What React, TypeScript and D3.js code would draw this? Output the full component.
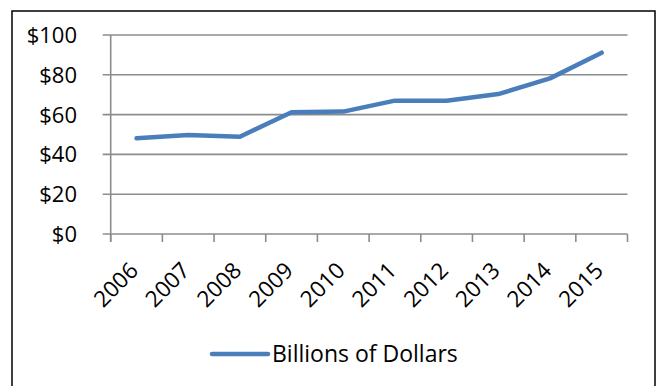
import React from "react";
import * as d3 from "d3";

const years = ["2006", "2007", "2008", "2009", "2010", "2011", "2012", "2013", "2014", "2015"];
const billions = [48.1, 49.7, 48.9, 61.2, 61.5, 67, 67, 70.3, 78.2, 91.1];
const yTicks = [0, 20, 40, 60, 80, 100];
const seriesName = "Billions of Dollars";

const W = 657;
const H = 386;
const plot = { left: 110.7, right: 627.5, top: 35, bottom: 234 };
const FONT = "'Open Sans', 'Liberation Sans', sans-serif";
const GRID = "#8c8c8c";
const LINE = "#4a7ebb";

export default function App() {
  const x = d3.scaleBand<string>().domain(years).range([plot.left, plot.right]);
  const y = d3.scaleLinear().domain([0, 100]).range([plot.bottom, plot.top]);
  const line = d3
    .line<number>()
    .x((_, i) => (x(years[i]) as number) + x.bandwidth() / 2)
    .y((d) => y(d));
  const tickX = years.map((yr) => x(yr) as number).concat([plot.right]);

  return (
    <svg
      width={W}
      height={H}
      style={{ position: "absolute", left: 0, top: 0, background: "#fff" }}
      fontFamily={FONT}
    >
      <rect x={12} y={11} width={643} height={400} fill="#fff" stroke="#000" strokeWidth={1.5} />
      {yTicks.map((t) => (
        <g key={t}>
          <line x1={plot.left - 8} x2={plot.right} y1={y(t)} y2={y(t)} stroke={GRID} strokeWidth={1.6} />
          <text x={77} y={y(t)} dy="0.36em" textAnchor="end" fontSize={22} fill="#000">
            {"$" + t}
          </text>
        </g>
      ))}
      <line x1={plot.left} x2={plot.left} y1={plot.top} y2={plot.bottom + 8} stroke={GRID} strokeWidth={1.6} />
      {tickX.map((tx, i) => (
        <line key={i} x1={tx} x2={tx} y1={plot.bottom} y2={plot.bottom + 8} stroke={GRID} strokeWidth={1.6} />
      ))}
      {years.map((yr) => {
        const cx = (x(yr) as number) + x.bandwidth() / 2 + 3;
        const cy = plot.bottom + 38;
        return (
          <text
            key={yr}
            x={cx}
            y={cy}
            textAnchor="end"
            fontSize={22.5}
            transform={`rotate(-45 ${cx} ${cy})`}
            fill="#000"
          >
            {yr}
          </text>
        );
      })}
      <path d={line(billions) || ""} fill="none" stroke={LINE} strokeWidth={4.5} strokeLinejoin="round" strokeLinecap="round" />
      <line x1={212} x2={268} y1={354} y2={354} stroke={LINE} strokeWidth={4.5} strokeLinecap="round" />
      <text x={272} y={362} fontSize={23} fill="#000">
        {seriesName}
      </text>
    </svg>
  );
}
